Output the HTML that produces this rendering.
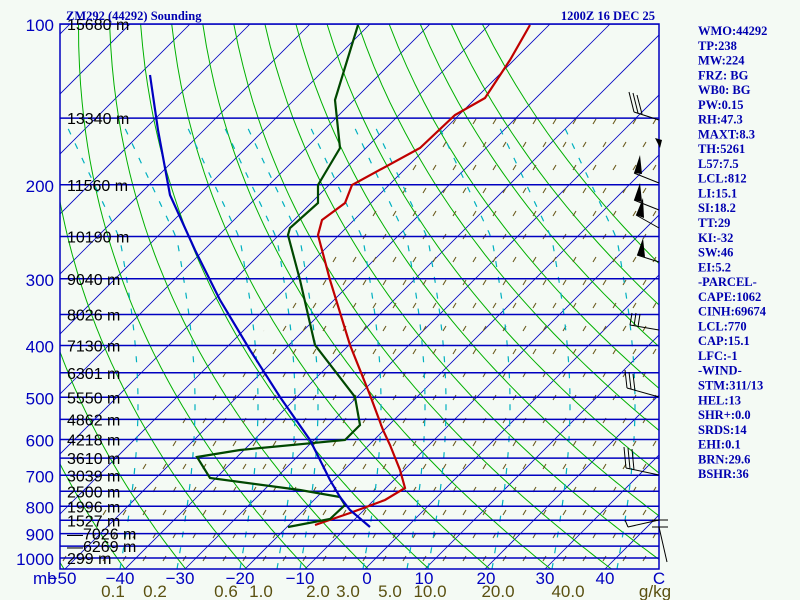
<!DOCTYPE html>
<html><head><meta charset="utf-8"><style>
html,body{margin:0;padding:0;background:#f4faf4;width:800px;height:600px;overflow:hidden}
svg{display:block}
.pl{font-family:"Liberation Sans",sans-serif;font-size:17px;fill:#0000c0}
.hl{font-family:"Liberation Sans",sans-serif;font-size:16px;fill:#000}
.ml{font-family:"Liberation Sans",sans-serif;font-size:17px;fill:#5a5010}
.rt{font-family:"Liberation Serif",serif;font-size:12.5px;font-weight:bold;fill:#0000b0}
</style></head><body>
<svg id="s" width="800" height="600" xmlns="http://www.w3.org/2000/svg">
<defs><clipPath id="c"><rect x="60" y="24" width="599" height="545"/></clipPath>
<clipPath id="c2"><polygon points="60,569 60,555 457,118 659,118 659,569"/></clipPath>
<pattern id="tk" x="0" y="0" width="40" height="46" patternUnits="userSpaceOnUse">
<path d="M3,9 L6,4 M23,9 L26,4 M13,32 L16,27 M33,32 L36,27" stroke="#6b5a1e" stroke-width="1.1" fill="none"/>
</pattern></defs>
<rect width="800" height="600" fill="#f4faf4"/>
<g id="grid" clip-path="url(#c)"></g>
<g clip-path="url(#c)"><rect x="60" y="24" width="599" height="545" fill="url(#tk)" clip-path="url(#c2)"/></g>
<g id="grid2" clip-path="url(#c)"></g>
<g id="prof" clip-path="url(#c)">
<polyline fill="none" stroke="#c00000" stroke-width="2.2" points="315,525 350,513 385,500 405,488 400,470 390,445 383,430 370,395 350,345 330,280 318,235 322,220 345,203 352,185 420,148 455,115 485,98 510,60 530,25"/>
<polyline fill="none" stroke="#004800" stroke-width="2.2" points="288,527 330,519 345,505 340,497 300,490 210,478 197,457 240,450 345,440 360,425 355,397 315,345 300,280 288,235 290,228 318,203 318,185 340,148 335,100 358,25"/>
<polyline fill="none" stroke="#0000c0" stroke-width="2.2" points="370,527 350,510 340,497 330,480 310,440 280,397 250,350 220,300 195,250 170,195 158,130 150,75"/>
</g>
<rect x="60" y="24" width="599" height="545" fill="none" stroke="#0000c0" stroke-width="1.5"/>
<g stroke="#000" stroke-width="1" fill="none">
<path d="M659,120 L634,112 M634,112 L629,92 M638,113 L633,93 M642,114 L637,95"/>
<path d="M659,183 L634,173 M659,210 L634,200 M659,228 L636,215 M659,262 L637,255"/>
<path d="M659,330 L630,325 M630,325 L632,313 M634,326 L636,313 M638,327 L640,314"/>
<path d="M659,397 L627,388 M627,388 L625,370 M631,389 L629,372 M635,391 L633,374"/>
<path d="M659,475 L626,468 M626,468 L624,447 M630,469 L628,448 M634,470 L632,449"/>
<path d="M652,520 L668,520 M659,520 L628,527 M628,527 L625,520 M652,527 L668,527 M659,527 L667,562"/>
</g>
<g fill="#000">
<polygon points="634,173 640,155 642,174"/><polygon points="634,200 640,183 642,202"/><polygon points="636,215 643,198 644,218"/><polygon points="637,255 643,238 645,257"/>
<polygon points="660,148 655,138 662,140"/>
</g>
<g id="lab"></g>
<text x="66" y="20" class="rt">ZM292 (44292) Sounding</text>
<text x="655" y="20" class="rt" text-anchor="end">1200Z 16 DEC 25</text>
<g id="rt" class="rt"></g>
</svg>
<script>
var NS="http://www.w3.org/2000/svg";
function Y(p){return 558-231.9*Math.log(1000/p);}
function X(T,p){return 365+6*T+(569-Y(p));}
function el(par,tag,at,txt){var e=document.createElementNS(NS,tag);for(var k in at)e.setAttribute(k,at[k]);if(txt!=null)e.textContent=txt;document.getElementById(par).appendChild(e);return e;}
function pl(g,pts,st){return el(g,"polyline",Object.assign({points:pts.map(function(a){return a[0].toFixed(1)+","+a[1].toFixed(1)}).join(" "),fill:"none"},st));}
for(var T=-160;T<=60;T+=10){pl("grid",[[X(T,1050),Y(1050)],[X(T,95),Y(95)]],{stroke:"#0000c0","stroke-width":0.8});}
for(var th=200;th<=390;th+=10){var a=[];for(var p=1050;p>=95;p-=10){var t=th*Math.pow(p/1000,0.286)-273.15;a.push([X(t,p),Y(p)]);}pl("grid",a,{stroke:"#00b000","stroke-width":1});}
[120,177,240,277,300,363,407,428,492,552,617].forEach(function(x0){var a=[];for(var y=569;y>=116;y-=8){var f=(569-y);var o=f<=330?18*Math.sin(Math.PI*f/330):-0.47*(f-330);a.push([x0+o,y]);}pl("grid2",a,{stroke:"#00b0c0","stroke-width":1.2,"stroke-dasharray":"6 10"});});
var H={100:"15680 m",150:"13340 m",200:"11560 m",250:"10190 m",300:"9040 m",350:"8026 m",400:"7130 m",450:"6301 m",500:"5550 m",550:"4862 m",600:"4218 m",650:"3610 m",700:"3039 m",750:"2500 m",800:"1996 m",850:"1527 m",900:"\u20147026 m",950:"\u20146269 m",1000:"299 m"};
for(var p=100;p<=1000;p+=50){var y=Y(p);pl("grid2",[[60,y],[659,y]],{stroke:"#0000c0","stroke-width":1.5});el("lab","text",{x:67,y:y+6,"class":"hl"},H[p]);if(p%100==0)el("lab","text",{x:54,y:y+7,"class":"pl","text-anchor":"end"},String(p));}
el("lab","text",{x:33,y:584,"class":"pl"},"mb");
[[-50,62],[-40,120],[-30,180],[-20,240],[-10,300],[0,367],[10,424],[20,486],[30,545],[40,605]].forEach(function(v){el("lab","text",{x:v[1],y:584,"class":"pl","text-anchor":"middle"},v[0]<0?"\u2212"+(-v[0]):String(v[0]));});
el("lab","text",{x:659,y:584,"class":"pl","text-anchor":"middle"},"C");
[["0.1",113],["0.2",155],["0.6",226],["1.0",261],["2.0",318],["3.0",348],["5.0",390],["10.0",430],["20.0",498],["40.0",568]].forEach(function(v){el("lab","text",{x:v[1],y:597,"class":"ml","text-anchor":"middle"},v[0]);});
el("lab","text",{x:655,y:597,"class":"ml","text-anchor":"middle"},"g/kg");
var R=["WMO:44292","TP:238","MW:224","FRZ: BG","WB0: BG","PW:0.15","RH:47.3","MAXT:8.3","TH:5261","L57:7.5","LCL:812","LI:15.1","SI:18.2","TT:29","KI:-32","SW:46","EI:5.2","-PARCEL-","CAPE:1062","CINH:69674","LCL:770","CAP:15.1","LFC:-1","-WIND-","STM:311/13","HEL:13","SHR+:0.0","SRDS:14","EHI:0.1","BRN:29.6","BSHR:36"];
R.forEach(function(s,i){el("rt","text",{x:698,y:35+i*14.77},s);});
</script>
</body></html>
